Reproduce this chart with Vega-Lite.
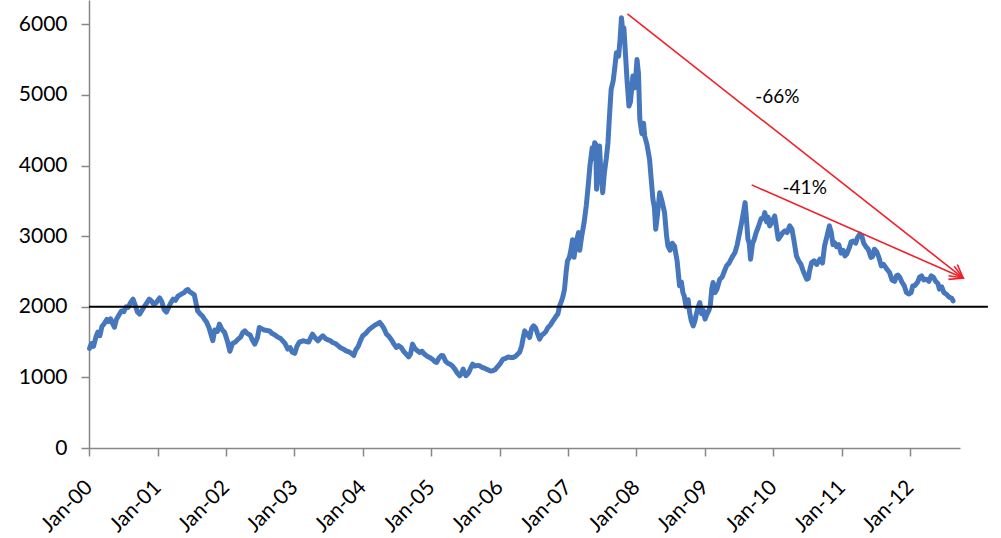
{
  "$schema": "https://vega.github.io/schema/vega-lite/v6.json",
  "width": 871,
  "height": 448,
  "autosize": {"type": "none"},
  "padding": {"left": 89, "top": 0, "right": 41, "bottom": 90},
  "background": "white",
  "config": {"view": {"stroke": null}, "font": "Lato"},
  "datasets": {
    "series": [
      {"d":"2000-01-04","v":1410},{"d":"2000-01-14","v":1480},{"d":"2000-01-25","v":1440},{"d":"2000-02-08","v":1580},{"d":"2000-02-17","v":1640},{"d":"2000-02-28","v":1590},{"d":"2000-03-10","v":1720},{"d":"2000-03-22","v":1760},{"d":"2000-04-05","v":1820},{"d":"2000-04-14","v":1790},{"d":"2000-04-25","v":1830},{"d":"2000-05-08","v":1750},{"d":"2000-05-16","v":1710},{"d":"2000-05-26","v":1820},{"d":"2000-06-08","v":1880},{"d":"2000-06-22","v":1940},{"d":"2000-07-05","v":1930},{"d":"2000-07-17","v":2000},{"d":"2000-07-28","v":1990},{"d":"2000-08-10","v":2060},{"d":"2000-08-23","v":2107},{"d":"2000-09-04","v":2020},{"d":"2000-09-15","v":1930},{"d":"2000-09-27","v":1895},{"d":"2000-10-10","v":1950},{"d":"2000-10-24","v":2010},{"d":"2000-11-06","v":2060},{"d":"2000-11-18","v":2107},{"d":"2000-11-30","v":2080},{"d":"2000-12-12","v":2030},{"d":"2000-12-25","v":2060},
      {"d":"2001-01-12","v":2125},{"d":"2001-01-24","v":2070},{"d":"2001-02-05","v":1960},{"d":"2001-02-17","v":1923},{"d":"2001-03-01","v":1990},{"d":"2001-03-13","v":2060},{"d":"2001-03-25","v":2107},{"d":"2001-04-06","v":2090},{"d":"2001-04-20","v":2150},{"d":"2001-05-08","v":2178},{"d":"2001-05-22","v":2200},{"d":"2001-06-02","v":2230},{"d":"2001-06-12","v":2245},{"d":"2001-06-22","v":2210},{"d":"2001-07-05","v":2190},{"d":"2001-07-16","v":2170},{"d":"2001-07-26","v":2040},{"d":"2001-08-03","v":1942},{"d":"2001-08-16","v":1900},{"d":"2001-08-28","v":1870},{"d":"2001-09-08","v":1825},{"d":"2001-09-20","v":1780},{"d":"2001-10-03","v":1700},{"d":"2001-10-16","v":1580},{"d":"2001-10-23","v":1520},{"d":"2001-11-02","v":1670},{"d":"2001-11-16","v":1650},{"d":"2001-11-27","v":1754},{"d":"2001-12-10","v":1680},{"d":"2001-12-25","v":1636},
      {"d":"2002-01-10","v":1500},{"d":"2002-01-22","v":1370},{"d":"2002-02-05","v":1480},{"d":"2002-02-20","v":1500},{"d":"2002-03-07","v":1542},{"d":"2002-03-20","v":1570},{"d":"2002-04-02","v":1640},{"d":"2002-04-12","v":1659},{"d":"2002-04-25","v":1620},{"d":"2002-05-10","v":1600},{"d":"2002-05-22","v":1530},{"d":"2002-06-04","v":1471},{"d":"2002-06-18","v":1560},{"d":"2002-06-28","v":1707},{"d":"2002-07-10","v":1690},{"d":"2002-07-24","v":1670},{"d":"2002-08-07","v":1665},{"d":"2002-08-21","v":1659},{"d":"2002-09-05","v":1620},{"d":"2002-09-20","v":1600},{"d":"2002-10-05","v":1570},{"d":"2002-10-20","v":1550},{"d":"2002-10-30","v":1520},{"d":"2002-11-12","v":1480},{"d":"2002-11-27","v":1400},{"d":"2002-12-10","v":1420},{"d":"2002-12-20","v":1360},
      {"d":"2003-01-03","v":1340},{"d":"2003-01-15","v":1440},{"d":"2003-01-28","v":1500},{"d":"2003-02-16","v":1518},{"d":"2003-03-02","v":1510},{"d":"2003-03-18","v":1500},{"d":"2003-04-08","v":1612},{"d":"2003-04-22","v":1560},{"d":"2003-05-07","v":1518},{"d":"2003-05-20","v":1560},{"d":"2003-06-02","v":1589},{"d":"2003-06-16","v":1550},{"d":"2003-06-30","v":1530},{"d":"2003-07-12","v":1520},{"d":"2003-07-24","v":1494},{"d":"2003-08-08","v":1480},{"d":"2003-08-22","v":1450},{"d":"2003-09-05","v":1420},{"d":"2003-09-20","v":1400},{"d":"2003-10-04","v":1376},{"d":"2003-10-20","v":1360},{"d":"2003-11-02","v":1340},{"d":"2003-11-14","v":1310},{"d":"2003-11-25","v":1390},{"d":"2003-12-08","v":1440},{"d":"2003-12-20","v":1520},
      {"d":"2004-01-01","v":1589},{"d":"2004-01-16","v":1620},{"d":"2004-02-06","v":1683},{"d":"2004-02-20","v":1710},{"d":"2004-03-06","v":1740},{"d":"2004-03-20","v":1760},{"d":"2004-04-01","v":1778},{"d":"2004-04-12","v":1740},{"d":"2004-04-24","v":1690},{"d":"2004-05-07","v":1612},{"d":"2004-05-20","v":1580},{"d":"2004-06-03","v":1530},{"d":"2004-06-16","v":1470},{"d":"2004-06-28","v":1424},{"d":"2004-07-10","v":1450},{"d":"2004-07-24","v":1424},{"d":"2004-08-06","v":1370},{"d":"2004-08-20","v":1330},{"d":"2004-09-02","v":1290},{"d":"2004-09-12","v":1330},{"d":"2004-09-23","v":1471},{"d":"2004-10-05","v":1410},{"d":"2004-10-18","v":1380},{"d":"2004-10-30","v":1353},{"d":"2004-11-12","v":1370},{"d":"2004-11-25","v":1330},{"d":"2004-12-10","v":1300},{"d":"2004-12-23","v":1283},
      {"d":"2005-01-10","v":1250},{"d":"2005-01-22","v":1220},{"d":"2005-01-30","v":1212},{"d":"2005-02-10","v":1270},{"d":"2005-02-24","v":1310},{"d":"2005-03-05","v":1306},{"d":"2005-03-18","v":1230},{"d":"2005-03-30","v":1200},{"d":"2005-04-10","v":1188},{"d":"2005-04-24","v":1160},{"d":"2005-05-06","v":1120},{"d":"2005-05-20","v":1060},{"d":"2005-06-02","v":1023},{"d":"2005-06-10","v":1050},{"d":"2005-06-20","v":1117},{"d":"2005-07-05","v":1023},{"d":"2005-07-18","v":1060},{"d":"2005-07-28","v":1120},{"d":"2005-08-10","v":1188},{"d":"2005-08-22","v":1160},{"d":"2005-09-05","v":1170},{"d":"2005-09-16","v":1164},{"d":"2005-09-30","v":1140},{"d":"2005-10-12","v":1130},{"d":"2005-10-22","v":1117},{"d":"2005-11-05","v":1100},{"d":"2005-11-16","v":1090},{"d":"2005-11-25","v":1093},{"d":"2005-12-08","v":1110},{"d":"2005-12-20","v":1150},
      {"d":"2006-01-05","v":1200},{"d":"2006-01-19","v":1259},{"d":"2006-02-02","v":1270},{"d":"2006-02-16","v":1290},{"d":"2006-03-01","v":1280},{"d":"2006-03-14","v":1283},{"d":"2006-03-28","v":1300},{"d":"2006-04-07","v":1330},{"d":"2006-04-17","v":1353},{"d":"2006-04-28","v":1440},{"d":"2006-05-08","v":1580},{"d":"2006-05-15","v":1659},{"d":"2006-05-25","v":1600},{"d":"2006-06-02","v":1620},{"d":"2006-06-10","v":1565},{"d":"2006-06-20","v":1690},{"d":"2006-07-01","v":1730},{"d":"2006-07-12","v":1700},{"d":"2006-07-22","v":1620},{"d":"2006-08-02","v":1542},{"d":"2006-08-14","v":1600},{"d":"2006-08-25","v":1620},{"d":"2006-09-05","v":1650},{"d":"2006-09-16","v":1707},{"d":"2006-09-28","v":1740},{"d":"2006-10-10","v":1790},{"d":"2006-10-20","v":1830},{"d":"2006-10-30","v":1871},{"d":"2006-11-08","v":1900},{"d":"2006-11-17","v":2013},{"d":"2006-11-27","v":2080},{"d":"2006-12-05","v":2150},{"d":"2006-12-13","v":2249},{"d":"2006-12-22","v":2500},{"d":"2006-12-29","v":2650},
      {"d":"2007-01-08","v":2700},{"d":"2007-01-16","v":2800},{"d":"2007-01-25","v":2950},{"d":"2007-02-02","v":2700},{"d":"2007-02-12","v":2900},{"d":"2007-02-26","v":3050},{"d":"2007-03-04","v":2800},{"d":"2007-03-15","v":3000},{"d":"2007-03-28","v":3200},{"d":"2007-04-08","v":3427},{"d":"2007-04-18","v":3700},{"d":"2007-04-28","v":4000},{"d":"2007-05-10","v":4250},{"d":"2007-05-18","v":4100},{"d":"2007-05-23","v":4324},{"d":"2007-05-29","v":4300},{"d":"2007-06-02","v":3663},{"d":"2007-06-10","v":4050},{"d":"2007-06-18","v":4276},{"d":"2007-06-25","v":3900},{"d":"2007-07-05","v":3616},{"d":"2007-07-14","v":3900},{"d":"2007-07-24","v":4100},{"d":"2007-08-02","v":4324},{"d":"2007-08-10","v":4700},{"d":"2007-08-19","v":5078},{"d":"2007-08-30","v":5200},{"d":"2007-09-08","v":5400},{"d":"2007-09-16","v":5597},{"d":"2007-09-28","v":5550},{"d":"2007-10-06","v":5800},{"d":"2007-10-13","v":6092},{"d":"2007-10-20","v":5900},{"d":"2007-10-26","v":5950},{"d":"2007-11-03","v":5597},{"d":"2007-11-12","v":5200},{"d":"2007-11-22","v":4842},{"d":"2007-11-30","v":4900},{"d":"2007-12-07","v":5100},{"d":"2007-12-13","v":5266},{"d":"2007-12-24","v":5100},
      {"d":"2008-01-04","v":5502},{"d":"2008-01-12","v":5300},{"d":"2008-01-19","v":4653},{"d":"2008-01-30","v":4450},{"d":"2008-02-08","v":4600},{"d":"2008-02-14","v":4417},{"d":"2008-02-26","v":4300},{"d":"2008-03-11","v":4088},{"d":"2008-03-20","v":3800},{"d":"2008-03-29","v":3522},{"d":"2008-04-06","v":3400},{"d":"2008-04-13","v":3098},{"d":"2008-04-22","v":3300},{"d":"2008-05-04","v":3616},{"d":"2008-05-16","v":3500},{"d":"2008-05-30","v":3334},{"d":"2008-06-10","v":3000},{"d":"2008-06-17","v":2861},{"d":"2008-06-28","v":2800},{"d":"2008-07-10","v":2900},{"d":"2008-07-22","v":2861},{"d":"2008-08-05","v":2650},{"d":"2008-08-18","v":2296},{"d":"2008-08-28","v":2350},{"d":"2008-09-05","v":2200},{"d":"2008-09-12","v":2154},{"d":"2008-09-22","v":2000},{"d":"2008-10-03","v":2100},{"d":"2008-10-11","v":1919},{"d":"2008-10-20","v":1800},{"d":"2008-10-30","v":1730},{"d":"2008-11-08","v":1800},{"d":"2008-11-16","v":1900},{"d":"2008-11-26","v":2000},{"d":"2008-12-04","v":2060},{"d":"2008-12-14","v":1900},{"d":"2008-12-23","v":1950},
      {"d":"2009-01-01","v":1825},{"d":"2009-01-12","v":1900},{"d":"2009-01-22","v":1950},{"d":"2009-01-29","v":2013},{"d":"2009-02-06","v":2250},{"d":"2009-02-13","v":2343},{"d":"2009-02-24","v":2200},{"d":"2009-03-06","v":2250},{"d":"2009-03-21","v":2390},{"d":"2009-04-02","v":2420},{"d":"2009-04-14","v":2500},{"d":"2009-04-26","v":2579},{"d":"2009-05-10","v":2620},{"d":"2009-05-25","v":2700},{"d":"2009-06-10","v":2768},{"d":"2009-06-22","v":2880},{"d":"2009-07-05","v":3050},{"d":"2009-07-16","v":3200},{"d":"2009-07-26","v":3350},{"d":"2009-08-03","v":3475},{"d":"2009-08-10","v":3250},{"d":"2009-08-18","v":2956},{"d":"2009-08-25","v":2900},{"d":"2009-09-01","v":2673},{"d":"2009-09-12","v":2900},{"d":"2009-09-20","v":2950},{"d":"2009-10-01","v":3050},{"d":"2009-10-15","v":3150},{"d":"2009-10-28","v":3250},{"d":"2009-11-08","v":3250},{"d":"2009-11-16","v":3334},{"d":"2009-11-26","v":3200},{"d":"2009-12-04","v":3270},{"d":"2009-12-12","v":3145},{"d":"2009-12-24","v":3200},
      {"d":"2010-01-08","v":3286},{"d":"2010-01-16","v":3150},{"d":"2010-01-27","v":2956},{"d":"2010-02-08","v":3000},{"d":"2010-02-20","v":3050},{"d":"2010-03-03","v":3074},{"d":"2010-03-15","v":3050},{"d":"2010-03-29","v":3145},{"d":"2010-04-10","v":3100},{"d":"2010-04-20","v":2950},{"d":"2010-05-04","v":2720},{"d":"2010-05-16","v":2650},{"d":"2010-05-28","v":2600},{"d":"2010-06-10","v":2500},{"d":"2010-06-28","v":2390},{"d":"2010-07-06","v":2400},{"d":"2010-07-14","v":2520},{"d":"2010-07-24","v":2626},{"d":"2010-08-06","v":2650},{"d":"2010-08-20","v":2600},{"d":"2010-09-06","v":2673},{"d":"2010-09-20","v":2620},{"d":"2010-10-01","v":2861},{"d":"2010-10-14","v":3000},{"d":"2010-10-27","v":3145},{"d":"2010-11-06","v":3050},{"d":"2010-11-15","v":2880},{"d":"2010-11-24","v":2909},{"d":"2010-12-04","v":2850},{"d":"2010-12-16","v":2880},{"d":"2010-12-28","v":2760},
      {"d":"2011-01-08","v":2800},{"d":"2011-01-18","v":2720},{"d":"2011-01-28","v":2750},{"d":"2011-02-12","v":2850},{"d":"2011-02-20","v":2920},{"d":"2011-03-03","v":2932},{"d":"2011-03-16","v":2900},{"d":"2011-03-26","v":2980},{"d":"2011-04-07","v":3027},{"d":"2011-04-18","v":3000},{"d":"2011-04-28","v":2900},{"d":"2011-05-10","v":2850},{"d":"2011-05-22","v":2815},{"d":"2011-06-06","v":2700},{"d":"2011-06-14","v":2710},{"d":"2011-06-24","v":2815},{"d":"2011-07-06","v":2780},{"d":"2011-07-18","v":2700},{"d":"2011-07-31","v":2579},{"d":"2011-08-12","v":2600},{"d":"2011-08-25","v":2550},{"d":"2011-09-13","v":2485},{"d":"2011-09-26","v":2380},{"d":"2011-10-10","v":2360},{"d":"2011-10-20","v":2437},{"d":"2011-10-27","v":2450},{"d":"2011-11-06","v":2420},{"d":"2011-11-18","v":2350},{"d":"2011-11-30","v":2300},{"d":"2011-12-12","v":2202},{"d":"2011-12-24","v":2180},
      {"d":"2012-01-06","v":2200},{"d":"2012-01-15","v":2296},{"d":"2012-01-26","v":2300},{"d":"2012-02-10","v":2350},{"d":"2012-02-20","v":2420},{"d":"2012-03-02","v":2437},{"d":"2012-03-14","v":2380},{"d":"2012-03-28","v":2390},{"d":"2012-04-10","v":2360},{"d":"2012-04-22","v":2437},{"d":"2012-05-04","v":2420},{"d":"2012-05-16","v":2360},{"d":"2012-05-28","v":2330},{"d":"2012-06-05","v":2249},{"d":"2012-06-18","v":2280},{"d":"2012-06-29","v":2200},{"d":"2012-07-12","v":2180},{"d":"2012-07-22","v":2150},{"d":"2012-07-31","v":2131},{"d":"2012-08-10","v":2120},{"d":"2012-08-17","v":2083}
    ],
    "level": [{"x": "2000-01-01", "x2": "2013-02-19", "y": 2000}],
    "arrows": [
      {"x": "2007-11-14", "y": 6146, "x2": "2012-10-10", "y2": 2406, "angle": 38},
      {"x": "2009-09-07", "y": 3726, "x2": "2012-10-10", "y2": 2406, "angle": 24}
    ],
    "labels": [
      {"x": "2010-01-22", "y": 4975, "t": "-66%"},
      {"x": "2010-06-17", "y": 3679, "t": "-41%"}
    ]
  },
  "layer": [
    {
      "data": {"name": "series"},
      "mark": {"type": "line", "color": "#4677BD", "strokeWidth": 5, "strokeJoin": "round", "strokeCap": "round"},
      "encoding": {
        "x": {
          "field": "d", "type": "temporal",
          "scale": {"type": "utc", "domain": [{"year": 2000, "month": 1, "date": 1, "utc": true}, {"year": 2012, "month": 9, "date": 23, "utc": true}], "nice": false},
          "axis": {
            "title": null, "grid": false,
            "labelExpr": "utcFormat(datum.value, '%b-%y')",
            "tickCount": {"interval": "year", "step": 1},
            "labelAngle": -45, "labelAlign": "right", "labelBaseline": "middle",
            "labelPadding": 28, "labelFontSize": 21, "labelColor": "#000000", "labelFont": "Lato",
            "tickSize": 8, "tickColor": "#868686", "tickWidth": 1.5,
            "domainColor": "#868686", "domainWidth": 1.5, "labelOverlap": false, "labelFlush": false
          }
        },
        "y": {
          "field": "v", "type": "quantitative",
          "scale": {"domain": [0, 6344], "nice": false, "zero": true},
          "axis": {
            "title": null, "grid": false, "values": [0, 1000, 2000, 3000, 4000, 5000, 6000], "format": "d",
            "labelPadding": 14, "labelFontSize": 21, "labelColor": "#000000", "labelFont": "Lato",
            "tickSize": 8, "tickColor": "#868686", "tickWidth": 1.5,
            "domainColor": "#868686", "domainWidth": 1.5
          }
        }
      }
    },
    {
      "data": {"name": "level"},
      "mark": {"type": "rule", "color": "#000000", "strokeWidth": 2},
      "encoding": {
        "x": {"field": "x", "type": "temporal"},
        "x2": {"field": "x2"},
        "y": {"field": "y", "type": "quantitative"}
      }
    },
    {
      "data": {"name": "arrows"},
      "mark": {"type": "rule", "color": "#F0202A", "strokeWidth": 1.6},
      "encoding": {
        "x": {"field": "x", "type": "temporal"},
        "x2": {"field": "x2"},
        "y": {"field": "y", "type": "quantitative"},
        "y2": {"field": "y2"}
      }
    },
    {
      "data": {"name": "arrows"},
      "mark": {"type": "point", "shape": "M -1 -0.55 L 0 0 L -1 0.55", "filled": false, "color": "#F0202A", "strokeWidth": 1.6, "size": 676, "opacity": 1},
      "encoding": {
        "x": {"field": "x2", "type": "temporal"},
        "y": {"field": "y2", "type": "quantitative"},
        "angle": {"field": "angle", "type": "quantitative", "scale": null}
      }
    },
    {
      "data": {"name": "labels"},
      "mark": {"type": "text", "fontSize": 19, "font": "Lato", "color": "#000000", "align": "center", "baseline": "middle"},
      "encoding": {
        "x": {"field": "x", "type": "temporal"},
        "y": {"field": "y", "type": "quantitative"},
        "text": {"field": "t"}
      }
    }
  ]
}
